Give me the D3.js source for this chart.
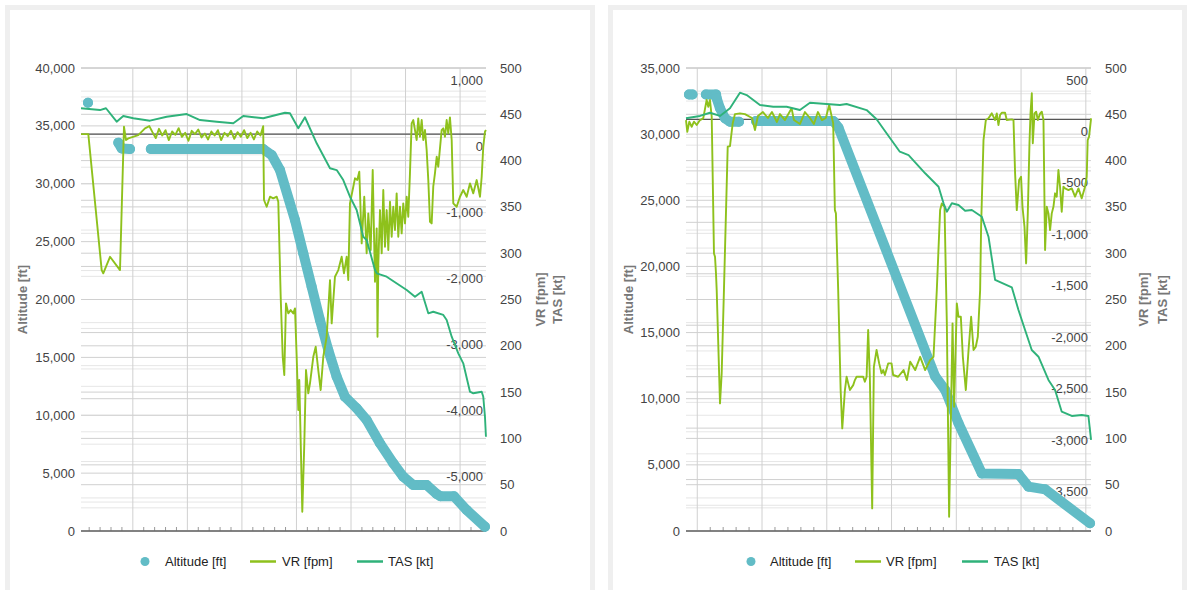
<!DOCTYPE html>
<html><head><meta charset="utf-8">
<script src="https://cdn.jsdelivr.net/npm/d3@7"></script>
<style>
body{margin:0;background:#fff;font-family:"Liberation Sans",Arial,sans-serif}
</style>
</head><body>
<svg id="chart" width="1192" height="590"></svg>
<script>
// ---------------- DATA ----------------
const legendLabels = ["Altitude [ft]", "VR [fpm]", "TAS [kt]"];
const axisTitles = ["Altitude [ft]", "VR [fpm]", "TAS [kt]"];
const timeGridTicks = [10, 20, 30, 40, 50, 60, 70];
const tasTicks = [0, 50, 100, 150, 200, 250, 300, 350, 400, 450, 500];
const leftAltTicks = [0, 5000, 10000, 15000, 20000, 25000, 30000, 35000, 40000];
const leftVRTicks = [1000, 0, -1000, -2000, -3000, -4000, -5000];
const rightAltTicks = [0, 5000, 10000, 15000, 20000, 25000, 30000, 35000];
const rightVRTicks = [500, 0, -500, -1000, -1500, -2000, -2500, -3000, -3500];

// [time, value]; null = gap
const leftAltitude = [
  [1.78, 37000], null,
  [7.34, 33550], [7.96, 33050], [9.48, 33000], null,
  [13.3, 33000], [33.9, 33000], [35.46, 32480], [36.98, 31190], [39.73, 26870],
  [41.25, 23990], [42.79, 21100], [44.31, 18230], [45.83, 15640], [47.37, 13330],
  [48.89, 11600], [51.04, 10600], [52.87, 9590], [55.31, 7580], [57.75, 5850],
  [59.58, 4690], [61.42, 3970], [63.87, 3970], [65.71, 3200], [66.4, 3000],
  [68.9, 3000], [71.21, 1810], [74.56, 370]
];
const leftVR = [
  [0.5,0],[1.84,0],[4.29,-2055],[4.58,-2105],[5.82,-1854],[7.65,-2055],[8.38,112],[8.75,-89],[9.17,-64],[11.0,-14],[12.23,88],[13.02,122],
  [13.6,30],[14.2,-60],[14.8,80],[15.4,-20],[16.0,60],[16.6,-90],[17.2,40],[17.8,-10],[18.4,90],[19.0,-40],[19.6,20],[20.2,-100],[20.8,50],[21.4,0],[22.0,70],[22.6,-50],[23.2,10],[23.8,-80],[24.4,40],[25.0,-20],[25.6,60],[26.2,-90],[26.8,20],[27.4,-30],[28.0,50],[28.6,-70],[29.2,30],[29.8,-40],[30.4,60],[31.0,-60],[31.6,20],[32.2,-80],[32.8,40],[33.4,-20],[33.9,120],
  [34.05,-996],[34.54,-1098],[35.15,-946],[35.75,-971],[36.38,-946],[36.67,-1022],[37.11,-2459],[37.48,-3366],[37.77,-3642],[38.08,-2558],[38.5,-2710],[38.94,-2660],[39.42,-2710],[39.73,-2634],[40.04,-3366],[40.34,-4172],[40.52,-3718],[41.07,-5709],[41.44,-4675],[41.75,-3567],[42.17,-3919],[42.48,-3768],[43.09,-3366],[43.53,-3215],[44.0,-3567],[44.44,-3869],[44.92,-3366],[45.54,-3063],[46.15,-2207],[46.46,-2861],[47.06,-2156],[47.67,-2055],[48.29,-1854],[48.71,-2105],[49.21,-1854],[49.5,-2206],[49.81,-1046],[50.3,-845],[50.73,-668],[51.15,-694],[51.52,-569],[51.96,-1651],[52.43,-947],[52.87,-1802],[53.17,-1198],[53.61,-1752],[53.98,-543],[54.4,-2232],[54.71,-1424],[54.86,-3063],[55.01,-1954],[55.32,-1148],[55.63,-1802],[55.92,-845],[56.23,-1702],[56.54,-1148],[56.84,-1752],[57.15,-1022],[57.46,-1551],[57.75,-1098],[58.06,-1450],[58.37,-895],[58.67,-1551],[58.98,-1098],[59.29,-1500],[59.58,-1046],[59.9,-1349],[60.21,-947],[60.5,-1249],[60.81,-593],[61.12,163],[61.42,213],[62.04,-89],[62.33,239],[62.64,-39],[62.96,213],[63.25,-89],[63.56,62],[63.87,-240],[64.17,-694],[64.48,-1324],[64.79,-1349],[65.08,-795],[65.39,-593],[65.71,-342],[66.0,-493],[66.62,62],[66.92,88],[67.23,-39],[67.54,213],[67.83,12],[68.14,254],[68.46,-89],[68.75,-1046],[69.37,-1098],[69.98,-947],[70.58,-845],[71.21,-947],[71.81,-744],[72.42,-895],[73.04,-694],[73.65,-947],[73.96,-644],[74.25,-191],[74.56,36],[74.74,62]
];
const leftTAS = [
  [0.5,456.5],[3.98,454.6],[5.08,456.5],[7.04,442.0],[8.25,448.2],[10.09,445.7],[13.15,443.1],[16.21,447.4],[19.88,450.3],[22.32,443.8],[25.38,442.0],[28.42,440.3],[30.25,448.2],[33.92,445.7],[37.9,451.7],[38.81,451.1],[40.34,434.9],[41.56,446.8],[43.71,418.7],[46.15,391.7],[47.38,389.8],[48.58,379.0],[49.81,361.0],[51.04,346.7],[52.25,317.8],[52.87,314.3],[54.4,281.9],[54.71,278.3],[56.54,274.6],[60.21,260.3],[61.73,253.0],[62.96,258.4],[64.17,235.1],[65.08,236.8],[66.92,233.3],[67.54,227.9],[68.46,209.8],[69.67,191.9],[70.58,181.1],[71.81,150.4],[72.42,148.7],[73.96,150.4],[74.25,145.0],[74.56,123.4],[74.74,101.8]
];

const rightAltitude = [
  [8.72, 33000], [9.26, 33000], null,
  [11.33, 33000], [12.9, 33000], [13.0, 32708], [13.51, 31953], [14.28, 31197], [15.05, 30940], [16.44, 30940], null,
  [19.06, 31000], [31.0, 31000], [31.8, 30500], [46.73, 11700], [48.28, 10659], [50.34, 8141],
  [53.94, 4350], [59.6, 4300], [61.15, 3350], [63.71, 3150], [70.65, 580]
];
const rightVR = [
  [8.26,-6],[8.46,-120],[8.77,-22],[9.14,-71],[9.49,-22],[9.91,-54],[10.42,-6],[10.92,11],[11.45,189],[11.7,123],[11.96,189],[12.23,26],[12.58,-1302],[12.74,-1335],[12.89,-1496],[13.0,-1658],[13.51,-2760],[13.77,-2468],[14.12,-1658],[14.43,-913],[14.7,-265],[15.05,-259],[15.47,-38],[15.82,52],[16.59,59],[17.36,52],[18.45,14],[18.91,-103],[19.37,33],[20.14,72],[20.91,14],[21.53,72],[22.3,-25],[22.77,52],[23.54,-6],[24.57,108],[24.93,-6],[25.85,-45],[26.62,72],[27.4,14],[28.01,-45],[28.63,72],[29.25,-6],[29.86,14],[30.37,140],[30.99,-38],[31.25,-881],[31.41,-913],[31.76,-1658],[32.14,-2630],[32.39,-3003],[32.8,-2630],[33.06,-2501],[33.31,-2565],[33.57,-2630],[34.08,-2582],[34.34,-2533],[34.6,-2501],[35.11,-2501],[35.62,-2501],[35.88,-2550],[36.15,-2501],[36.39,-2047],[36.65,-2501],[37.01,-3780],[37.27,-2404],[37.69,-2241],[38.09,-2371],[38.46,-2468],[38.71,-2436],[38.97,-2484],[39.48,-2371],[40.0,-2371],[40.25,-2484],[41.02,-2501],[41.86,-2436],[42.37,-2533],[42.88,-2355],[43.65,-2436],[44.42,-2307],[45.19,-2436],[45.96,-2339],[46.48,-2307],[46.99,-1658],[47.5,-881],[47.76,-816],[48.18,-849],[48.38,-1496],[48.54,-1982],[48.89,-3862],[49.42,-1982],[49.66,-2793],[50.08,-1788],[50.34,-1918],[50.7,-1918],[51.01,-2307],[51.47,-2630],[51.89,-2241],[52.29,-1918],[52.66,-2241],[53.01,-2209],[53.32,-2112],[53.68,-1658],[53.83,-1043],[54.2,-200],[54.56,-6],[54.97,11],[55.48,59],[55.99,-6],[56.25,59],[56.51,-54],[56.76,43],[57.02,65],[57.53,65],[57.79,-6],[58.57,1],[58.83,-6],[59.08,-524],[59.34,-881],[59.7,-589],[60.0,-557],[60.22,-849],[60.53,-1043],[60.78,-1399],[61.04,-913],[61.3,-232],[61.46,59],[61.66,254],[61.81,-232],[62.08,59],[62.33,75],[62.59,-6],[62.95,59],[63.2,75],[63.46,-6],[63.71,-1269],[63.97,-849],[64.23,-913],[64.48,-1075],[64.74,-913],[65.0,-849],[65.25,-718],[65.51,-751],[65.77,-492],[66.02,-654],[66.28,-897],[66.54,-654],[66.79,-670],[67.32,-686],[67.83,-670],[68.34,-751],[68.86,-670],[69.37,-767],[69.88,-654],[70.14,-557],[70.29,-200],[70.5,-168],[70.81,11]
];
const rightTAS = [
  [8.26,445.7],[10.42,448.2],[11.96,451.7],[13.51,448.2],[15.05,456.5],[16.59,473.3],[17.63,470.8],[19.68,460.0],[21.73,458.2],[23.8,458.2],[25.85,454.6],[27.4,462.5],[29.97,461.1],[32.03,460.0],[33.06,461.1],[36.15,454.6],[37.69,444.6],[39.23,429.5],[41.28,409.6],[42.63,406.0],[45.19,386.3],[47.26,371.8],[48.03,353.9],[48.54,344.8],[49.31,353.9],[50.34,352.1],[51.36,345.9],[52.4,346.7],[53.94,339.4],[54.97,317.8],[55.99,271.1],[58.57,263.2],[59.6,238.7],[60.62,217.1],[61.65,195.5],[62.69,188.2],[64.23,163.1],[65.25,152.3],[66.28,128.8],[67.83,124.2],[69.37,125.3],[70.4,124.2],[70.81,98.3]
];

// ---------------- STYLE ----------------
const COL_ALT = "#62bcc6", COL_VR = "#8ec11c", COL_TAS = "#2fb27a";
const fmt = d3.formatLocale({decimal:".", thousands:",", grouping:[3], currency:["$",""], minus:"-"}).format(",");

const panels = [
  { card:[7.5,7.5,585,620], x0:81, x1:486, y0:68, y1:531, xDomain:[0.5,74.75],
    altTicks:leftAltTicks, altMax:40000, vrTicks:leftVRTicks, vrDomain:[-6000,1000],
    alt:leftAltitude, vr:leftVR, tas:leftTAS,
    titleX:[22,540,557], tasLabelX:500,
    legend:{dot:145, text1:165, line2:250, text2:282, line3:357, text3:388} },
  { card:[610.5,7.5,574,620], x0:686, x1:1091, y0:68, y1:531, xDomain:[8.26,70.8],
    altTicks:rightAltTicks, altMax:35000, vrTicks:rightVRTicks, vrDomain:[-4000,500],
    alt:rightAltitude, vr:rightVR, tas:rightTAS,
    titleX:[628,1143,1162], tasLabelX:1105,
    legend:{dot:751, text1:770, line2:855, text2:886, line3:962, text3:994} }
];

const svg = d3.select("#chart");

panels.forEach(p => {
  const g = svg.append("g");
  g.append("rect").attr("x",p.card[0]).attr("y",p.card[1]).attr("width",p.card[2]).attr("height",p.card[3])
    .attr("fill","#fff").attr("stroke","#efefef").attr("stroke-width",5);

  const x = d3.scaleLinear().domain(p.xDomain).range([p.x0, p.x1]);
  const yAlt = d3.scaleLinear().domain([0, p.altMax]).range([p.y1, p.y0]);
  const yVR = d3.scaleLinear().domain(p.vrDomain).range([p.y1, p.y0]);
  const yTAS = d3.scaleLinear().domain([0, 500]).range([p.y1, p.y0]);

  const grid = g.append("g");
  const hline = (y, c, w) => grid.append("line").attr("x1",p.x0).attr("x2",p.x1)
      .attr("y1",y).attr("y2",y).attr("stroke",c).attr("stroke-width",w||1);

  // minor gridlines
  const altStep = p.altTicks[1]-p.altTicks[0];
  p.altTicks.slice(0,-1).forEach(v => hline(yAlt(v+altStep/2), "#e6e6e6"));
  tasTicks.slice(0,-1).forEach(v => hline(yTAS(v+25), "#e6e6e6"));
  const vrStep = p.vrTicks[0]-p.vrTicks[1];
  for (let v = p.vrDomain[0] + vrStep/2; v < p.vrDomain[1]; v += vrStep) hline(yVR(v), "#e6e6e6");
  // major gridlines
  p.altTicks.forEach(v => hline(yAlt(v), "#d0d0d0"));
  tasTicks.forEach(v => hline(yTAS(v), "#d0d0d0"));
  p.vrTicks.forEach(v => hline(yVR(v), "#d0d0d0"));
  hline(yVR(p.vrDomain[0]), "#d0d0d0");

  // vertical gridlines
  timeGridTicks.forEach(t => grid.append("line").attr("x1",x(t)).attr("x2",x(t))
      .attr("y1",p.y0).attr("y2",p.y1).attr("stroke","#d0d0d0"));
  // minor ticks on x axis
  for (let t = Math.ceil(p.xDomain[0]/2)*2; t <= p.xDomain[1]; t += 2) {
    if (t % 10 === 0) continue;
    grid.append("line").attr("x1",x(t)).attr("x2",x(t)).attr("y1",p.y1).attr("y2",p.y1-4)
      .attr("stroke","#999");
  }

  // baselines
  hline(yVR(0), "#555", 1.2);
  hline(p.y1, "#666", 1.3);

  // axis labels
  const lab = g.append("g").attr("font-size",13).attr("fill","#444");
  p.altTicks.forEach(v => lab.append("text").attr("x",p.x0-6).attr("y",yAlt(v)+4.5)
      .attr("text-anchor","end").text(fmt(v)));
  p.vrTicks.forEach(v => lab.append("text").attr("x",p.x1-3).attr("y",yVR(v)+16.5)
      .attr("text-anchor","end").text(fmt(v)));
  tasTicks.forEach(v => lab.append("text").attr("x",p.tasLabelX).attr("y",yTAS(v)+4.5)
      .attr("text-anchor","start").text(fmt(v)));

  // axis titles
  const cy = (p.y0+p.y1)/2;
  axisTitles.forEach((t,i) => g.append("text")
      .attr("transform",`translate(${p.titleX[i]},${cy}) rotate(-90)`)
      .attr("dy","0.35em").attr("text-anchor","middle").attr("font-size",13)
      .attr("font-weight","bold").attr("fill","#777").text(t));

  // Altitude series (dots merged into a thick trace)
  const altLine = d3.line().defined(d => d).x(d => x(d[0])).y(d => yAlt(d[1]));
  g.append("path").attr("d", altLine(p.alt)).attr("fill","none").attr("stroke",COL_ALT)
    .attr("stroke-width",10).attr("stroke-linecap","round").attr("stroke-linejoin","round");
  g.append("g").selectAll("circle").data(p.alt.filter(d => d)).join("circle")
    .attr("cx", d => x(d[0])).attr("cy", d => yAlt(d[1])).attr("r",5).attr("fill",COL_ALT);

  // VR
  const vrLine = d3.line().x(d => x(d[0])).y(d => yVR(d[1]));
  g.append("path").attr("d", vrLine(p.vr)).attr("fill","none").attr("stroke",COL_VR)
    .attr("stroke-width",1.9).attr("stroke-linejoin","round");
  // TAS
  const tasLine = d3.line().x(d => x(d[0])).y(d => yTAS(d[1]));
  g.append("path").attr("d", tasLine(p.tas)).attr("fill","none").attr("stroke",COL_TAS)
    .attr("stroke-width",1.9).attr("stroke-linejoin","round");

  // legend
  const L = p.legend, ly = 561.5;
  const lg = g.append("g").attr("font-size",13).attr("fill","#222");
  lg.append("circle").attr("cx",L.dot).attr("cy",ly).attr("r",4.5).attr("fill",COL_ALT);
  lg.append("text").attr("x",L.text1).attr("y",ly+4.5).text(legendLabels[0]);
  lg.append("line").attr("x1",L.line2).attr("x2",L.line2+26).attr("y1",ly).attr("y2",ly)
    .attr("stroke",COL_VR).attr("stroke-width",2.5);
  lg.append("text").attr("x",L.text2).attr("y",ly+4.5).text(legendLabels[1]);
  lg.append("line").attr("x1",L.line3).attr("x2",L.line3+26).attr("y1",ly).attr("y2",ly)
    .attr("stroke",COL_TAS).attr("stroke-width",2.5);
  lg.append("text").attr("x",L.text3).attr("y",ly+4.5).text(legendLabels[2]);
});
</script>
</body></html>
